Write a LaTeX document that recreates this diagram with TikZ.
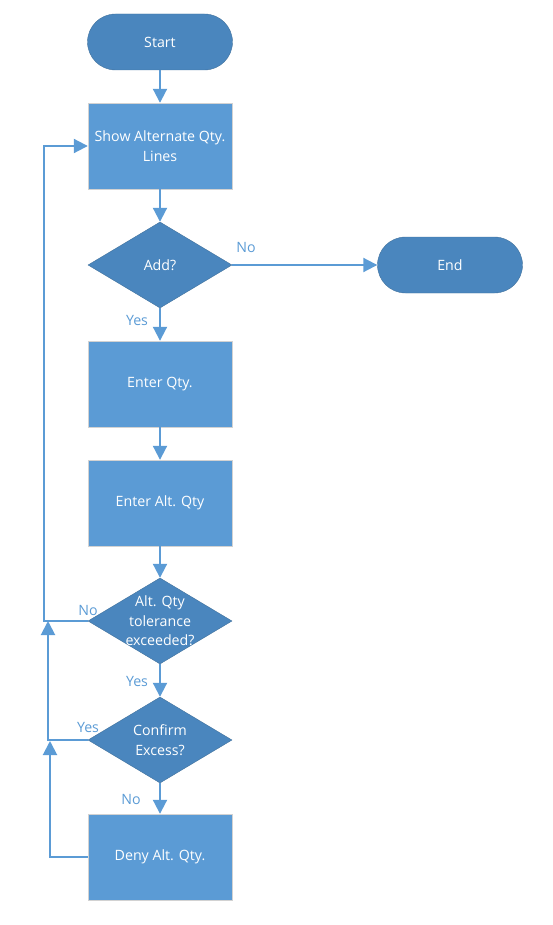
\documentclass[tikz,border=0pt]{standalone}
\usepackage{fontspec}
\setmainfont{Open Sans}
\usetikzlibrary{shapes.geometric, arrows.meta}
\definecolor{boxblue}{HTML}{5B9BD5}
\definecolor{darkblue}{HTML}{4A86BE}
\definecolor{edgeblue}{HTML}{41719C}

\begin{document}
\begin{tikzpicture}[x=1pt,y=-1pt,
    terminal/.style={draw=edgeblue,fill=darkblue,rounded corners=28pt,minimum width=145pt,minimum height=56pt,text=white},
    proc/.style={draw=gray!35,fill=boxblue,minimum width=144pt,minimum height=86pt,text=white,align=center},
    decision/.style={diamond,draw=edgeblue,fill=darkblue,minimum width=144pt,minimum height=86pt,inner sep=0pt},
    dtext/.style={text=white,align=center},
    flow/.style={draw=boxblue,line width=2pt,-{Triangle[width=14pt,length=14pt]}},
    lbl/.style={text=boxblue},
    font=\fontsize{14.2}{19.5}\selectfont
  ]
  \useasboundingbox (0,0) rectangle (552,925);

  \node[terminal] (start) at (160,42) {Start};
  \node[proc] (show) at (160,146) {Show Alternate Qty.\\Lines};
  \node[decision,label={[dtext]center:Add?}] (add) at (160,265) {};
  \node[terminal] (stop) at (450,265) {End};
  \node[proc] (enterqty) at (160,384) {Enter Qty.};
  \node[proc] (enteralt) at (160,503) {Enter Alt. Qty};
  \node[decision,label={[dtext]center:Alt. Qty\\tolerance\\exceeded?}] (tol) at (160,621) {};
  \node[decision,label={[dtext]center:Confirm\\Excess?}] (confirm) at (160,740) {};
  \node[proc] (deny) at (160,857) {Deny Alt. Qty.};

  \coordinate (loopa) at (44,0);
  \coordinate (joinb) at (48,621);
  \coordinate (joinc) at (50,741);

  \draw[flow] (start) -- (show);
  \draw[flow] (show) -- (add);
  \draw[flow] (add) -- (stop);
  \draw[flow] (add) -- (enterqty);
  \draw[flow] (enterqty) -- (enteralt);
  \draw[flow] (enteralt) -- (tol);
  \draw[flow] (tol) -- (confirm);
  \draw[flow] (confirm) -- (deny);

  % loops back on the left
  \draw[flow] (tol.west) -- (tol.west -| loopa) |- (show.west);
  \draw[flow] (confirm.west) -| (joinb);
  \draw[flow] (deny.west) -| (joinc);

  \node[lbl] (noadd) at (246,248) {No};
  \node[lbl] (yesadd) at (137,320) {Yes};
  \node[lbl] (notol) at (88,610) {No};
  \node[lbl] (yestol) at (137,681) {Yes};
  \node[lbl] (yesconf) at (88,727) {Yes};
  \node[lbl] (noconf) at (131,799) {No};

\end{tikzpicture}
\end{document}
